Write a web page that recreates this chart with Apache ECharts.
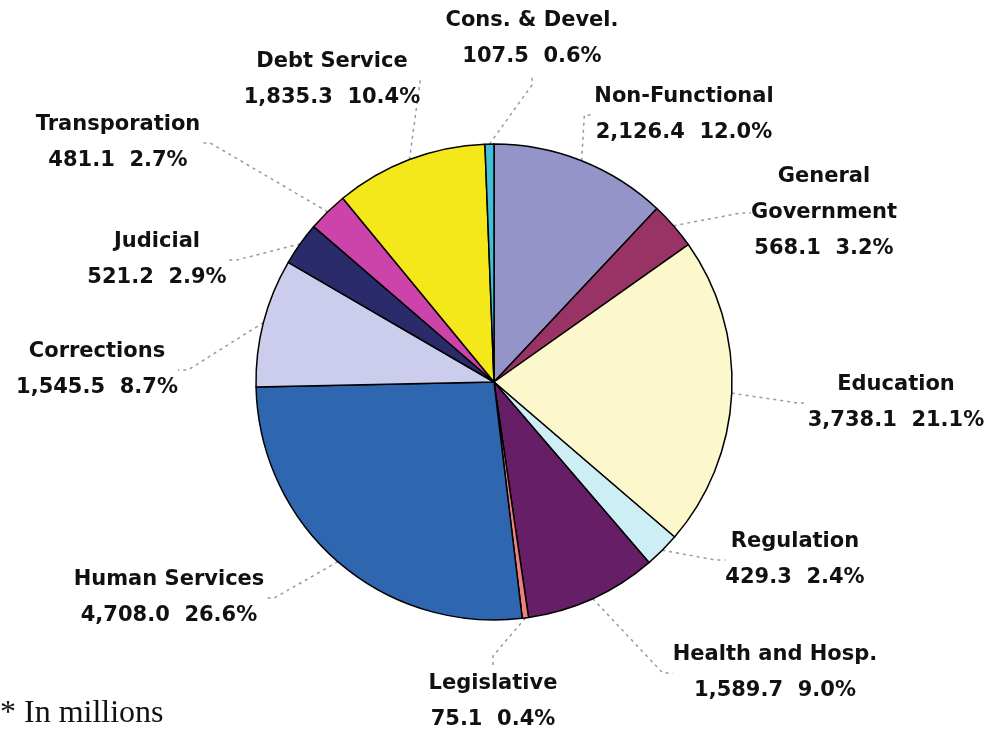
<!DOCTYPE html>
<html>
<head>
<meta charset="utf-8">
<script src="https://cdn.jsdelivr.net/npm/echarts@6/dist/echarts.min.js"></script>
<style>
  html, body { margin: 0; padding: 0; background: #fff; }
  #chart { width: 987px; height: 731px; }
</style>
</head>
<body>
<div id="chart"></div>
<script>
// spending by function, in millions (clockwise from 12 o'clock)
const names = [
  "Non-Functional", "General Government", "Education", "Regulation",
  "Health and Hosp.", "Legislative", "Human Services", "Corrections",
  "Judicial", "Transporation", "Debt Service", "Cons. & Devel."
];
const values = [
  2126.4, 568.1, 3738.1, 429.3,
  1589.7, 75.1, 4708.0, 1545.5,
  521.2, 481.1, 1835.3, 107.5
];
const colors = [
  "#9494c8", "#993366", "#fdf8cc", "#cdeef4",
  "#661f66", "#f08080", "#2f66b0", "#ccccec",
  "#2b2b6b", "#cc44aa", "#f5e81a", "#40c0d8"
];

// where each label block sits (center of text)
const labelPos = [
  [684, 115], [824, 213], [896, 403], [795, 560],
  [775, 673], [493, 702], [169, 598], [97, 370],
  [157, 260], [118, 143], [332, 80], [532, 39]
];

const total = values.reduce((a, b) => a + b, 0);

const chart = echarts.init(document.getElementById("chart"));

const option = {
  animation: false,
  backgroundColor: "#fff",
  graphic: [
    {
      type: "text",
      left: 0,
      top: 698,
      style: {
        text: "* In millions",
        font: "32px 'Liberation Serif', 'DejaVu Serif', serif",
        fill: "#111"
      }
    }
  ],
  series: [
    {
      type: "pie",
      center: [494, 382],
      radius: 238,
      startAngle: 90,
      clockwise: true,
      data: names.map((n, i) => ({
        name: n,
        value: values[i],
        itemStyle: { color: colors[i] }
      })),
      itemStyle: {
        borderColor: "#000",
        borderWidth: 1.5
      },
      label: {
        show: true,
        position: "outside",
        color: "#111",
        fontFamily: "DejaVu Sans",
        fontWeight: "bold",
        fontSize: 21,
        lineHeight: 36,
        align: "center",
        formatter: (p) => {
          const pct = (p.value / total * 100).toFixed(1);
          const v = p.value.toLocaleString("en-US", {
            minimumFractionDigits: 1,
            maximumFractionDigits: 1
          });
          const nm = p.name === "General Government" ? "General\nGovernment" : p.name;
          return nm + "\n" + v + "  " + pct + "%";
        }
      },
      labelLine: {
        show: true,
        length: 20,
        length2: 10,
        lineStyle: {
          color: "#999",
          width: 1.5,
          type: [3, 4]
        }
      },
      labelLayout: (params) => {
        const pos = labelPos[params.dataIndex];
        return {
          x: pos[0],
          y: pos[1],
          align: "center",
          verticalAlign: "middle"
        };
      },
      emphasis: { disabled: true }
    }
  ]
};

chart.setOption(option);
</script>
</body>
</html>
